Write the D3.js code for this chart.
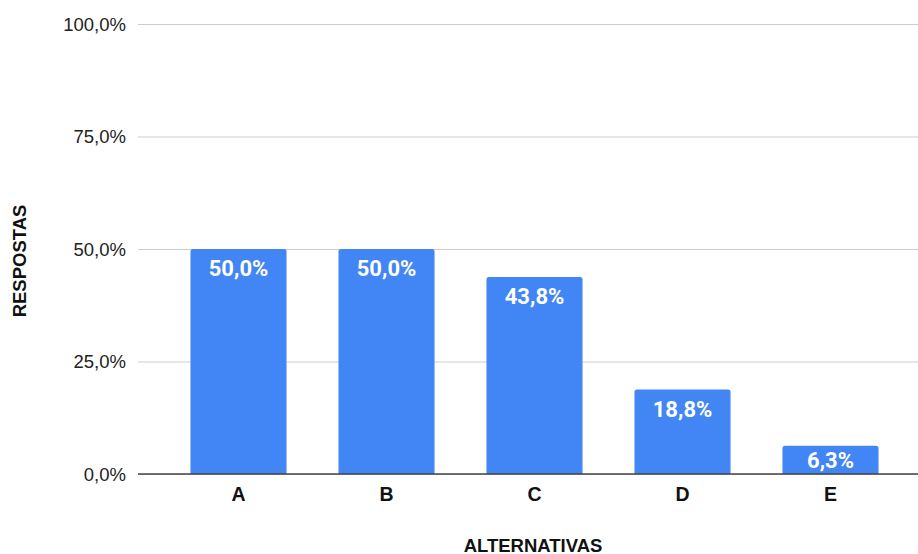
<!DOCTYPE html>
<html><head><meta charset="utf-8">
<script src="https://cdn.jsdelivr.net/npm/d3@7"></script>
<style>body{margin:0;background:#fff}svg{display:block}</style>
</head><body>
<svg id="c" width="918" height="554"></svg>
<script>
const categories = ["A","B","C","D","E"];
const values = [50.0, 50.0, 43.8, 18.8, 6.3];
const yTicks = [0, 25, 50, 75, 100];
const xTitle = "ALTERNATIVAS";
const yTitle = "RESPOSTAS";

const svg = d3.select("#c");
const fmt = v => v.toFixed(1).replace(".", ",") + "%";
const x = d3.scaleBand().domain(categories).range([164.5, 904.5]).paddingInner(0.351).paddingOuter(0.1755);
const y = d3.scaleLinear().domain([0, 100]).range([474, 24]);
const sans = "Arial, 'Liberation Sans', sans-serif";

// grid
const yAxis = d3.axisLeft(y).tickValues(yTicks).tickSize(0).tickPadding(0).tickFormat(fmt);
const gy = svg.append("g").attr("transform", "translate(138,0)").call(yAxis);
gy.select(".domain").remove();
gy.selectAll(".tick line").attr("x2", 918 - 138).attr("stroke", "#cccccc").attr("stroke-width", 1);
gy.selectAll(".tick text").attr("x", -12).attr("dy", "0.35em")
  .attr("font-family", sans).attr("font-size", 18.5).attr("fill", "#222");

// bars
const r = 2.5;
svg.append("g").selectAll("path").data(values).join("path")
  .attr("fill", "#4285F4")
  .attr("d", (d, i) => {
    const x0 = x(categories[i]), w = x.bandwidth(), t = y(d), b = y(0);
    return `M${x0},${b}V${t + r}Q${x0},${t} ${x0 + r},${t}H${x0 + w - r}Q${x0 + w},${t} ${x0 + w},${t + r}V${b}Z`;
  });

// value labels
svg.append("g").selectAll("text").data(values).join("text")
  .attr("x", (d, i) => x(categories[i]) + x.bandwidth() / 2)
  .attr("y", d => Math.min(y(d) + 27.3, (y(d) + y(0)) / 2 + 7.8))
  .attr("text-anchor", "middle")
  .attr("font-family", "Roboto, sans-serif").attr("font-weight", "bold").attr("font-size", 22)
  .attr("fill", "#fff").text(d => fmt(d));

// x axis
const xAxis = d3.axisBottom(x).tickSize(0).tickPadding(0);
const gx = svg.append("g").attr("transform", `translate(0,${y(0)})`).call(xAxis);
gx.select(".domain").remove();
gx.selectAll(".tick text").attr("y", 27).attr("dy", 0)
  .attr("font-family", sans).attr("font-weight", "bold").attr("font-size", 19.5).attr("fill", "#111");
svg.append("line").attr("x1", 138).attr("x2", 918).attr("y1", y(0)).attr("y2", y(0))
  .attr("stroke", "#444").attr("stroke-width", 1.5);

// titles
svg.append("text").attr("x", 533).attr("y", 551.5).attr("text-anchor", "middle")
  .attr("font-family", sans).attr("font-weight", "bold").attr("font-size", 18.5).attr("fill", "#111")
  .text(xTitle);
svg.append("text").attr("transform", "translate(25.7,261) rotate(-90)").attr("text-anchor", "middle")
  .attr("font-family", sans).attr("font-weight", "bold").attr("font-size", 18.5).attr("fill", "#111")
  .text(yTitle);
</script>
</body></html>
